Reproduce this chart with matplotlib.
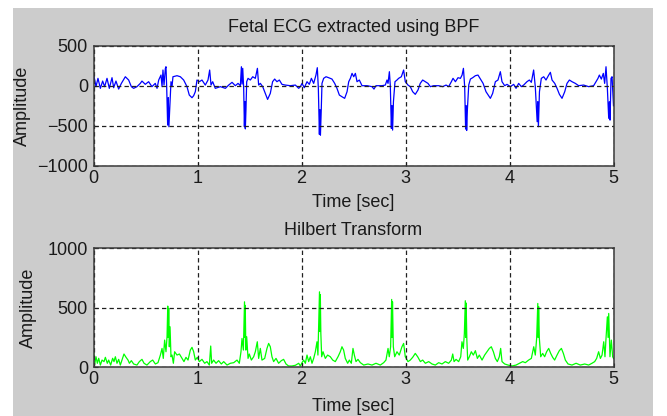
import matplotlib
matplotlib.use('Agg')
import matplotlib.pyplot as plt
from matplotlib.patches import Rectangle

# ---------------- data ----------------
ecg_t = [0.000, 0.024, 0.043, 0.066, 0.088, 0.107, 0.130, 0.152, 0.178, 0.194,
         0.216, 0.242, 0.268, 0.306, 0.338, 0.364, 0.386, 0.418, 0.450, 0.466,
         0.498, 0.530, 0.562, 0.594, 0.611, 0.627, 0.649, 0.659, 0.668, 0.678,
         0.691, 0.697, 0.704, 0.713, 0.719, 0.725, 0.736, 0.745, 0.755, 0.764, 0.803,
         0.835, 0.867, 0.899, 0.921, 0.947, 0.963, 0.979, 0.995, 1.018, 1.043,
         1.075, 1.101, 1.117, 1.130, 1.146, 1.171, 1.220, 1.268, 1.300, 1.332,
         1.364, 1.390, 1.412, 1.422, 1.428, 1.435, 1.444, 1.451, 1.456, 1.460, 1.466, 1.473, 1.486,
         1.508, 1.531, 1.556, 1.576, 1.588, 1.604, 1.627, 1.652, 1.674, 1.700,
         1.722, 1.742, 1.764, 1.787, 1.812, 1.844, 1.893, 1.941, 1.973, 1.989,
         2.005, 2.027, 2.053, 2.075, 2.095, 2.117, 2.139, 2.152, 2.162, 2.172,
         2.177, 2.182, 2.190, 2.197, 2.213, 2.236, 2.261, 2.293, 2.319, 2.341, 2.364, 2.389,
         2.415, 2.438, 2.454, 2.470, 2.486, 2.502, 2.518, 2.534, 2.556, 2.582,
         2.630, 2.678, 2.697, 2.716, 2.774, 2.806, 2.822, 2.832, 2.845, 2.854,
         2.864, 2.870, 2.876, 2.884, 2.899, 2.918, 2.934, 2.960, 2.982, 2.998, 3.024,
         3.046, 3.069, 3.094, 3.120, 3.142, 3.165, 3.190, 3.216, 3.239, 3.271,
         3.319, 3.358, 3.390, 3.415, 3.441, 3.457, 3.480, 3.505, 3.528, 3.544,
         3.557, 3.569, 3.578, 3.583, 3.588, 3.595, 3.608, 3.624, 3.646, 3.672, 3.697, 3.720,
         3.746, 3.774, 3.816, 3.838, 3.864, 3.889, 3.912, 3.928, 3.954, 3.976,
         4.008, 4.040, 4.063, 4.088, 4.114, 4.136, 4.168, 4.191, 4.210, 4.232,
         4.248, 4.266, 4.272, 4.278, 4.288, 4.306, 4.329, 4.351, 4.377, 4.393, 4.409,
         4.435, 4.457, 4.480, 4.505, 4.531, 4.553, 4.576, 4.601, 4.633, 4.665,
         4.713, 4.761, 4.809, 4.832, 4.851, 4.864, 4.883, 4.902, 4.915, 4.928,
         4.941, 4.954, 4.960, 4.967, 4.976, 4.986, 5.000]
ecg_v = [150, -12, 92, -33, 58, -12, 92, -33, 100, -25,
         58, -42, 29, 112, 71, -12, -33, -12, 29, 58,
         17, 50, -12, 29, -33, 71, 133, -12, 196, 8,
         217, 237, -33, -492, -150, -513, -200, 50, -12, 112, 125,
         112, 71, -12, -117, -150, -125, -75, 71, 50, 71,
         8, 71, 196, 8, 50, -33, -12, -33, 8, 42,
         0, 29, 0, 237, 20, 217, -33, -513, -200, -540, -300, 50, 92,
         71, 112, 92, 217, 8, 29, -12, -96, -171, -96,
         50, 83, 50, 71, 17, 8, 0, 8, -33, -12,
         29, -25, 50, 17, 92, 29, 133, 225, -33, -609,
         -300, -620, -300, 29, 92, 112, 100, 83, 29, -33, -117, -138,
         -158, -75, 50, 92, 154, 112, 154, 50, 71, 0,
         0, -12, -42, 0, 0, 8, 71, 29, 175, 0,
         -534, -250, -555, -200, 50, 71, 92, 112, 196, 50, 8,
         -12, -75, -108, -54, 29, 71, 50, 29, -12, 0,
         0, -12, 8, -12, 50, 92, 50, 100, 92, 133,
         217, -12, -542, -250, -560, -300, 8, 83, 100, 125, 133, 83,
         29, -75, -158, -96, 50, 71, 175, 50, 0, 17,
         -12, 17, -33, 29, -12, 8, 50, 71, 42, 196,
         -12, -450, -200, -513, -75, 92, 112, 71, 133, 167, 71,
         29, -33, -108, -158, -75, 29, 71, 50, 29, 0,
         8, -12, 0, 50, 92, 133, 83, 154, 29, 237,
         -33, -408, -200, -430, 92, 112, -250]

hil_t = [0.000, 0.011, 0.024, 0.037, 0.050, 0.066, 0.082, 0.101, 0.114, 0.133,
         0.146, 0.165, 0.184, 0.197, 0.210, 0.226, 0.242, 0.258, 0.274, 0.293,
         0.313, 0.332, 0.345, 0.364, 0.386, 0.418, 0.441, 0.466, 0.486, 0.514,
         0.546, 0.569, 0.595, 0.620, 0.643, 0.659, 0.671, 0.684, 0.697, 0.707,
         0.714, 0.719, 0.723, 0.729, 0.736, 0.745, 0.755, 0.768, 0.780, 0.803, 0.826, 0.851,
         0.870, 0.889, 0.909, 0.931, 0.947, 0.963, 0.979, 0.998, 1.018, 1.043,
         1.069, 1.091, 1.114, 1.127, 1.136, 1.155, 1.178, 1.203, 1.229, 1.252,
         1.284, 1.316, 1.348, 1.380, 1.402, 1.418, 1.428, 1.441, 1.452, 1.456, 1.459, 1.465,
         1.473, 1.486, 1.498, 1.518, 1.540, 1.556, 1.575, 1.588, 1.604, 1.620,
         1.646, 1.668, 1.684, 1.700, 1.716, 1.732, 1.755, 1.780, 1.806, 1.828,
         1.851, 1.876, 1.908, 1.941, 1.973, 1.989, 2.005, 2.021, 2.037, 2.053,
         2.069, 2.085, 2.101, 2.117, 2.133, 2.149, 2.158, 2.173, 2.177, 2.181, 2.186, 2.194,
         2.207, 2.229, 2.251, 2.277, 2.300, 2.325, 2.351, 2.373, 2.389, 2.405,
         2.421, 2.444, 2.460, 2.479, 2.495, 2.508, 2.524, 2.543, 2.566, 2.598,
         2.639, 2.678, 2.716, 2.758, 2.790, 2.812, 2.832, 2.844, 2.857, 2.867, 2.871, 2.875,
         2.883, 2.896, 2.918, 2.940, 2.966, 2.982, 2.998, 3.024, 3.046, 3.069,
         3.094, 3.117, 3.143, 3.165, 3.191, 3.223, 3.255, 3.287, 3.319, 3.351,
         3.383, 3.415, 3.441, 3.454, 3.467, 3.486, 3.511, 3.531, 3.543, 3.556,
         3.566, 3.575, 3.579, 3.583, 3.590, 3.598, 3.614, 3.633, 3.652, 3.672, 3.691, 3.710,
         3.736, 3.761, 3.784, 3.806, 3.825, 3.845, 3.864, 3.883, 3.902, 3.915,
         3.928, 3.954, 3.986, 4.024, 4.063, 4.095, 4.127, 4.152, 4.184, 4.210,
         4.233, 4.248, 4.261, 4.272, 4.276, 4.280, 4.287, 4.300, 4.319, 4.338, 4.357, 4.377,
         4.396, 4.415, 4.434, 4.457, 4.479, 4.499, 4.518, 4.537, 4.563, 4.601,
         4.640, 4.681, 4.723, 4.761, 4.793, 4.819, 4.838, 4.857, 4.874, 4.890,
         4.906, 4.918, 4.928, 4.941, 4.948, 4.954, 4.966, 4.979, 4.992, 5.000]
hil_v = [160, 20, 88, 33, 75, 18, 60, 47, 83, 33,
         60, 18, 75, 47, 88, 33, 66, 18, 60, 111,
         83, 60, 33, 55, 27, 18, 47, 66, 33, 18,
         47, 60, 27, 38, 102, 158, 74, 228, 130, 256,
         514, 250, 490, 172, 340, 88, 102, 33, 130, 102, 111, 74,
         47, 83, 60, 144, 167, 130, 60, 83, 47, 66,
         33, 47, 18, 178, 33, 60, 33, 55, 27, 47,
         18, 33, 38, 60, 33, 130, 242, 144, 550, 250, 520, 144,
         256, 74, 111, 60, 88, 130, 214, 74, 158, 60,
         74, 158, 200, 172, 88, 47, 74, 33, 55, 66,
         27, 10, 10, 16, 33, 10, 38, 60, 33, 102,
         47, 88, 33, 74, 130, 214, 102, 634, 300, 610, 284, 88,
         130, 74, 102, 88, 60, 47, 88, 130, 172, 144,
         74, 33, 60, 33, 158, 102, 47, 66, 38, 18,
         27, 18, 33, 18, 38, 60, 158, 88, 172, 570, 250, 550,
         172, 88, 130, 102, 172, 200, 88, 47, 60, 83,
         116, 88, 47, 60, 33, 47, 27, 18, 38, 27,
         47, 33, 60, 111, 47, 66, 47, 88, 214, 158,
         284, 559, 250, 540, 228, 60, 88, 130, 102, 139, 74, 102,
         60, 102, 130, 158, 172, 130, 74, 47, 88, 158,
         47, 27, 18, 10, 18, 33, 47, 38, 60, 74,
         172, 102, 242, 536, 250, 510, 242, 88, 116, 88, 130, 158,
         116, 83, 60, 102, 139, 158, 116, 60, 27, 18,
         33, 18, 27, 18, 33, 47, 74, 130, 74, 102,
         214, 88, 242, 424, 250, 452, 88, 228, 88, 74]

ecg_yticks = [-1000, -500, 0, 500]
hil_yticks = [0, 500, 1000]
x_ticks = [0, 1, 2, 3, 4, 5]

# ---------------- figure ----------------
plt.rcParams['font.family'] = ['Liberation Sans', 'DejaVu Sans']
FS = 13
W, H = 667, 416
fig = plt.figure(figsize=(W / 100, H / 100), dpi=100, facecolor='white')
fig.patches.append(Rectangle((13 / W, 0), (653 - 13) / W, 1 - 8 / H,
                             transform=fig.transFigure, facecolor='#cccccc',
                             edgecolor='none', zorder=-10))

ax1 = fig.add_axes([93.5 / W, 1 - 165.7 / H, 520 / W, 120 / H])
ax2 = fig.add_axes([93.5 / W, 1 - 367.2 / H, 520 / W, 118.9 / H])

ax1.plot(ecg_t, ecg_v, color='#0000ff', lw=0.9)
ax2.plot(hil_t, hil_v, color='#00ff00', lw=0.9)

def style(ax, yticks, title, ylab_x, xlab_y):
    ax.set_facecolor('white')
    ax.set_xlim(0, 5)
    ax.set_ylim(yticks[0], yticks[-1])
    ax.set_xticks(x_ticks)
    ax.set_yticks(yticks)
    ax.grid(True, color='#202020', lw=0.9, linestyle=(0, (3.5, 2.5)))
    ax.set_axisbelow(False)
    for s in ax.spines.values():
        s.set_color('#3a3a3a')
        s.set_linewidth(1.1)
        s.set_zorder(5)
    ax.tick_params(direction='in', length=3, width=0.8, colors='#1a1a1a',
                   labelsize=FS, top=False, right=False)
    ax.tick_params(axis='x', pad=3)
    ax.tick_params(axis='y', pad=4)
    ax.set_title(title, fontsize=FS, pad=9.6, color='#1a1a1a')
    ax.set_xlabel('Time [sec]', fontsize=FS, color='#1a1a1a')
    ax.set_ylabel('Amplitude', fontsize=FS, color='#1a1a1a')
    ax.yaxis.set_label_coords(ylab_x, 0.5)
    ax.xaxis.set_label_coords(0.5, xlab_y)

style(ax1, ecg_yticks, 'Fetal ECG extracted using BPF', -0.12, -0.235)
style(ax2, hil_yticks, 'Hilbert Transform', -0.108, -0.258)

fig.savefig('out.png', dpi=100, facecolor='white')
